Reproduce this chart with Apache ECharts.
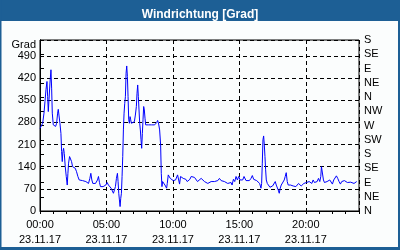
<!DOCTYPE html>
<html><head><meta charset="utf-8">
<script src="https://cdn.jsdelivr.net/npm/echarts@6/dist/echarts.min.js"></script>
<style>html,body{margin:0;padding:0;background:#fff}#c{width:400px;height:250px}</style>
</head><body><div id="c"></div>
<script>
const titleText = 'Windrichtung [Grad]';
const dateLabel = '23.11.17';
const leftUnit = 'Grad';
const compassLabels = ['N','NE','E','SE','S','SW','W','NW','N','NE','E','SE','S'];
// hours since 00:00 on 23.11.17
const timesMorning = [0,0.125,0.2,0.3,0.375,0.45,0.525,0.575,0.625,0.675,
0.75,0.825,0.875,0.925,1.0,1.075,1.175,1.25,1.325,1.375,
1.425,1.5,1.575,1.625,1.675,1.725,1.775,1.825,1.9,1.975,
2.05,2.1,2.15,2.225,2.3,2.375,2.45,2.55,2.65,2.75,
2.85,2.95,3.075,3.2,3.325,3.45,3.55,3.65,3.75,3.825,
3.9,3.975,4.075,4.175,4.25,4.325,4.4,4.475,4.55,4.65,
4.75,4.85,4.95,5.05,5.15,5.25,5.35,5.45,5.525,5.6,
5.675,5.75,5.825,5.875,5.925,5.975,6.025,6.075,6.125,6.175,
6.225,6.275,6.325,6.375,6.425,6.475,6.525,6.575,6.625,6.675,
6.725,6.775,6.825,6.875,6.95,7.025,7.1,7.175,7.25,7.3,
7.35,7.4,7.45,7.5,7.55,7.6,7.65,7.7,7.75,7.8,
7.85,7.9,7.95,8.025,8.1,8.175,8.25,8.325,8.4,8.475,
8.55,8.625,8.7,8.775,8.85,8.925,9.0,9.075,9.125,9.175,
9.225,9.275,9.325,9.4,9.475,9.525,9.575,9.65,9.725,9.8,
9.875,9.95,10.025,10.125,10.2,10.275,10.35,10.425,10.5,10.575,
10.675,10.775,10.875,10.975,11.075,11.175,11.275,11.375,11.5,11.625,
11.75,11.85,11.95];
const valuesMorning = [261,256,277,309,346,383,409,361,314,351,
404,446,388,309,272,267,267,277,309,321,
303,277,245,188,156,188,198,182,140,109,
82,119,151,172,177,156,140,135,135,124,
109,98,100,96,96,93,90,87,103,119,
98,87,87,87,93,98,109,90,77,82,
77,72,82,90,82,77,72,66,56,66,
77,103,119,93,56,35,14,40,56,109,
172,256,309,340,361,435,458,425,361,288,
277,298,288,277,279,277,282,303,330,372,
398,361,319,277,256,225,198,245,288,330,
319,293,272,277,275,272,267,272,272,277,
272,272,275,279,286,275,256,209,119,77,
93,98,87,82,87,72,87,114,109,103,
109,98,96,96,98,93,114,109,85,109,
114,103,98,100,93,98,100,109,109,106,
103,93,98];
const timesAfternoon = [12,12.125,12.25,12.375,12.5,12.625,12.75,12.875,13,13.125,
13.25,13.375,13.5,13.625,13.75,13.875,14,14.125,14.25,14.375,
14.45,14.55,14.65,14.75,14.85,14.95,15.05,15.15,15.25,15.35,
15.425,15.5,15.625,15.75,15.875,15.975,16.075,16.175,16.3,16.425,
16.525,16.625,16.675,16.725,16.775,16.825,16.875,16.925,16.975,17.025,
17.1,17.2,17.3,17.4,17.5,17.6,17.7,17.775,17.85,17.925,
18,18.075,18.15,18.225,18.3,18.375,18.45,18.525,18.6,18.675,
18.75,18.85,18.95,19.05,19.15,19.25,19.35,19.45,19.55,19.65,
19.75,19.85,19.95,20.05,20.15,20.25,20.35,20.45,20.55,20.65,
20.75,20.85,20.95,21.05,21.125,21.175,21.25,21.325,21.4,21.5,
21.6,21.7,21.8,21.9,22,22.1,22.2,22.3,22.4,22.5,
22.6,22.7,22.8,22.9,23,23.125,23.25,23.375,23.5,23.625,
23.75,23.825];
const valuesAfternoon = [98,103,100,93,98,87,93,93,90,93,
93,96,103,96,93,93,90,87,93,90,
82,100,93,109,98,109,98,103,98,109,
103,96,96,96,103,112,100,98,96,93,
87,72,87,151,225,237,209,172,130,98,
87,82,75,72,79,82,93,82,77,66,
56,72,82,77,82,98,109,121,93,82,
79,82,82,79,85,77,82,87,82,79,
85,87,85,90,87,93,93,87,98,90,
87,93,103,93,109,140,140,98,90,93,
93,87,98,93,85,98,103,111,103,93,
85,93,98,96,93,90,93,91,90,87,
90,93];

const times = timesMorning.concat(timesAfternoon);
const values = valuesMorning.concat(valuesAfternoon);
const seriesData = times.map((t, i) => [t, values[i]]);

const FONT = 'Liberation Sans';
const frameBlue = '#1d5f95';
const chart = echarts.init(document.getElementById('c'), null, {renderer: 'canvas'});
const pad2 = n => (n < 10 ? '0' : '') + n;

chart.setOption({
  animation: false,
  backgroundColor: '#fbfdfd',
  title: {
    text: titleText, left: 'center', top: 3,
    textStyle: {color: '#ffffff', fontFamily: FONT, fontWeight: 'bold', fontSize: 12, lineHeight: 14}
  },
  graphic: [
    {type: 'rect', z: -10, shape: {x: 0, y: 0, width: 400, height: 21}, style: {fill: frameBlue}},
    {type: 'rect', z: -10, shape: {x: 0, y: 0, width: 1.5, height: 250}, style: {fill: frameBlue}},
    {type: 'rect', z: -10, shape: {x: 398, y: 0, width: 2, height: 250}, style: {fill: frameBlue}},
    {type: 'rect', z: -10, shape: {x: 0, y: 247, width: 400, height: 3}, style: {fill: frameBlue}}
  ],
  grid: {left: 40, right: 41, top: 40, bottom: 39, show: true, borderColor: '#000', borderWidth: 1, backgroundColor: 'transparent'},
  xAxis: [{
    type: 'value', min: 0, max: 24, interval: 5, position: 'bottom',
    axisLine: {show: true, lineStyle: {color: '#000', width: 1}},
    axisTick: {show: false},
    splitLine: {show: true, lineStyle: {color: '#000', type: [4, 3], width: 1}},
    axisLabel: {
      margin: 6, color: '#000', fontFamily: FONT, fontSize: 11, lineHeight: 15,
      formatter: v => (v % 5 === 0 ? pad2(v) + ':00\n' + dateLabel : '')
    }
  }, {
    type: 'value', min: 0, max: 24, interval: 1, position: 'bottom',
    axisLine: {show: false},
    axisTick: {show: true, length: 3, lineStyle: {color: '#000'}},
    splitLine: {show: false},
    axisLabel: {show: false}
  }],
  yAxis: [{
    type: 'value', min: 0, max: 540, interval: 70, position: 'left',
    name: leftUnit, nameLocation: 'end', nameGap: -6,
    nameTextStyle: {fontFamily: FONT, fontSize: 11, color: '#000', align: 'right', verticalAlign: 'middle', padding: [0, 4, 0, 0]},
    axisLine: {show: true, lineStyle: {color: '#000'}},
    axisTick: {show: false},
    splitLine: {show: true, lineStyle: {color: '#000', type: [4, 3], width: 1}},
    axisLabel: {
      margin: 4, color: '#000', fontFamily: FONT, fontSize: 11,
      formatter: v => (v % 70 === 0 ? String(v) : '')
    }
  }, {
    type: 'value', min: 0, max: 540, interval: 45, position: 'right',
    axisLine: {show: true, lineStyle: {color: '#000'}},
    axisTick: {show: true, length: 4, lineStyle: {color: '#000'}},
    splitLine: {show: false},
    axisLabel: {
      margin: 5, color: '#000', fontFamily: FONT, fontSize: 11,
      showMaxLabel: true,
      formatter: v => compassLabels[Math.round(v / 45)] || ''
    }
  }],
  series: [{
    type: 'line', xAxisIndex: 0, yAxisIndex: 0, data: seriesData,
    showSymbol: false, symbol: 'none',
    lineStyle: {color: '#0000ff', width: 1}
  }]
});
</script></body></html>
